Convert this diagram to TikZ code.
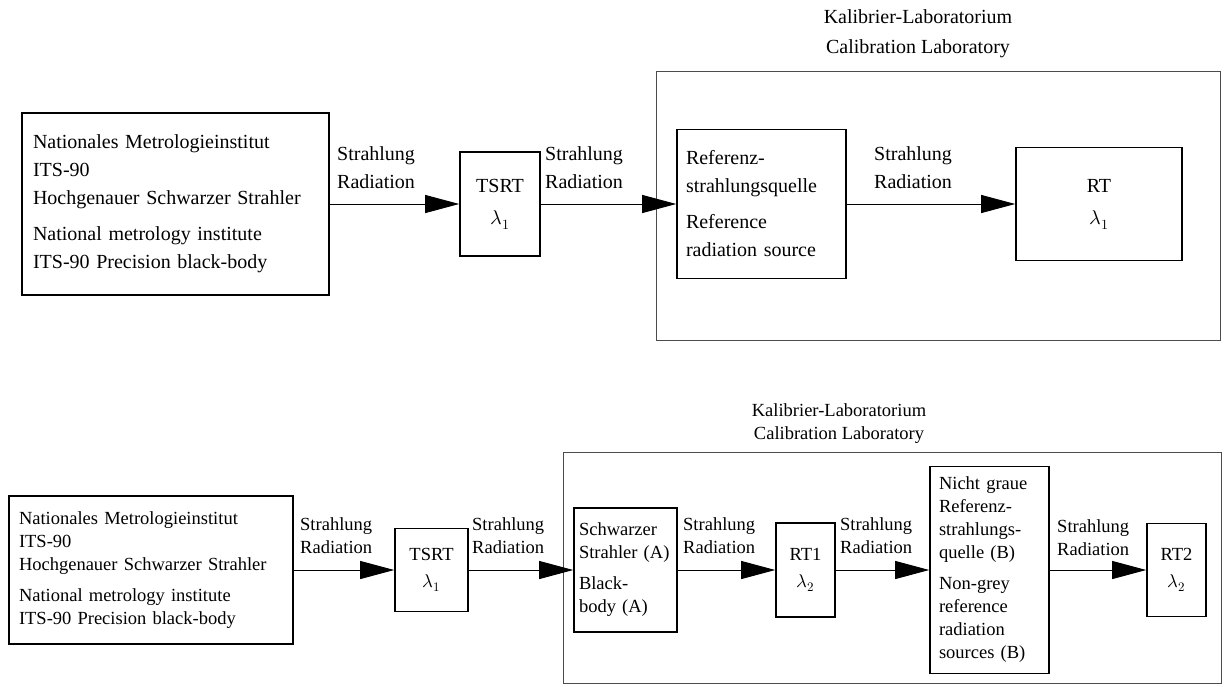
\documentclass[tikz,border=0pt]{standalone}
\usepackage{amsmath}
\usepackage{fontspec}
\usepackage{unicode-math}
\setmainfont{Liberation Serif}
\setmathfont{Latin Modern Math}
\usepackage{tikz}
\usetikzlibrary{arrows.meta,shapes}

\begin{document}
\begin{tikzpicture}[x=1pt,y=-1pt]
\tikzstyle{box}=[draw,line width=1.6pt,inner sep=0pt];
\tikzstyle{lbox}=[box,align=left];
\tikzstyle{cbox}=[box,align=center];
\tikzstyle{lbl}=[anchor=west,align=left,inner sep=0pt];
\tikzstyle{lab}=[draw=black!70,line width=1pt,inner sep=0pt];
\tikzstyle{big}=[font=\fontsize{20}{28}\selectfont];
\tikzstyle{small}=[font=\fontsize{18.5}{23}\selectfont];
\tikzstyle{ray}=[line width=0.9pt,-{Triangle[length=34pt,width=18pt]}];

\useasboundingbox (0,0) rectangle (1225,686);

% upper chain
\node[lab,minimum width=564,minimum height=269] (lab-a) at (938,205.5) {};
\node[big,align=center] (title-a) at (918,34) {Kalibrier-Laboratorium\\[2pt]Calibration Laboratory};

\node[lbox,big,text width=285,inner xsep=11,minimum height=182] (nmi-a) at (175.5,204) {
Nationales Metrologieinstitut\\
ITS-90\\
Hochgenauer Schwarzer Strahler\\[8pt]
National metrology institute\\
ITS-90 Precision black-body
};
\node[cbox,big,minimum width=80,minimum height=104] (tsrt-a) at (500,204) {TSRT\\[4pt]$\lambda_1$};
\node[lbox,big,text width=151,inner xsep=9,minimum height=149] (ref-a) at (761.5,204) {
Referenz-\\
strahlungsquelle\\[8pt]
Reference\\
radiation source
};
\node[cbox,big,minimum width=166,minimum height=113] (rt-a) at (1099,204) {RT\\[4pt]$\lambda_1$};

\node[lbl,big] (ray-a1) at (337,168) {Strahlung\\Radiation};
\node[lbl,big] (ray-a2) at (545,168) {Strahlung\\Radiation};
\node[lbl,big] (ray-a3) at (874,168) {Strahlung\\Radiation};

\path[draw] [ray] (nmi-a) -- (tsrt-a);
\path[draw] [ray] (tsrt-a) -- (ref-a);
\path[draw] [ray] (ref-a) -- (rt-a);

% lower chain
\node[lab,minimum width=658,minimum height=231] (lab-b) at (892,567.5) {};
\node[small,align=center] (title-b) at (839,423.5) {Kalibrier-Laboratorium\\Calibration Laboratory};

\node[lbox,small,text width=264,inner xsep=10,minimum height=148] (nmi-b) at (151,570) {
Nationales Metrologieinstitut\\
ITS-90\\
Hochgenauer Schwarzer Strahler\\[8pt]
National metrology institute\\
ITS-90 Precision black-body
};
\node[cbox,small,minimum width=73,minimum height=83] (tsrt-b) at (431.5,570) {TSRT\\[4pt]$\lambda_1$};
\node[lbox,small,text width=93,inner xsep=5,minimum height=124] (schw-b) at (625.5,570) {
Schwarzer\\
Strahler (A)\\[8pt]
Black-\\
body (A)
};
\node[cbox,small,minimum width=59,minimum height=94] (rt1-b) at (805.5,570) {RT1\\[4pt]$\lambda_2$};
\node[lbox,small,text width=101,inner xsep=9,minimum height=207] (grey-b) at (989.5,570) {
Nicht graue\\
Referenz-\\
strahlungs-\\
quelle (B)\\[8pt]
Non-grey\\
reference\\
radiation\\
sources (B)
};
\node[cbox,small,minimum width=59,minimum height=93] (rt2-b) at (1176.5,570) {RT2\\[4pt]$\lambda_2$};

\node[lbl,small] (ray-b1) at (300,535.5) {Strahlung\\Radiation};
\node[lbl,small] (ray-b2) at (472,535.5) {Strahlung\\Radiation};
\node[lbl,small] (ray-b3) at (683,535.5) {Strahlung\\Radiation};
\node[lbl,small] (ray-b4) at (840,535.5) {Strahlung\\Radiation};
\node[lbl,small] (ray-b5) at (1057,538) {Strahlung\\Radiation};

\path[draw] [ray] (nmi-b) -- (tsrt-b);
\path[draw] [ray] (tsrt-b) -- (schw-b);
\path[draw] [ray] (schw-b) -- (rt1-b);
\path[draw] [ray] (rt1-b) -- (grey-b);
\path[draw] [ray] (grey-b) -- (rt2-b);
\end{tikzpicture}
\end{document}
